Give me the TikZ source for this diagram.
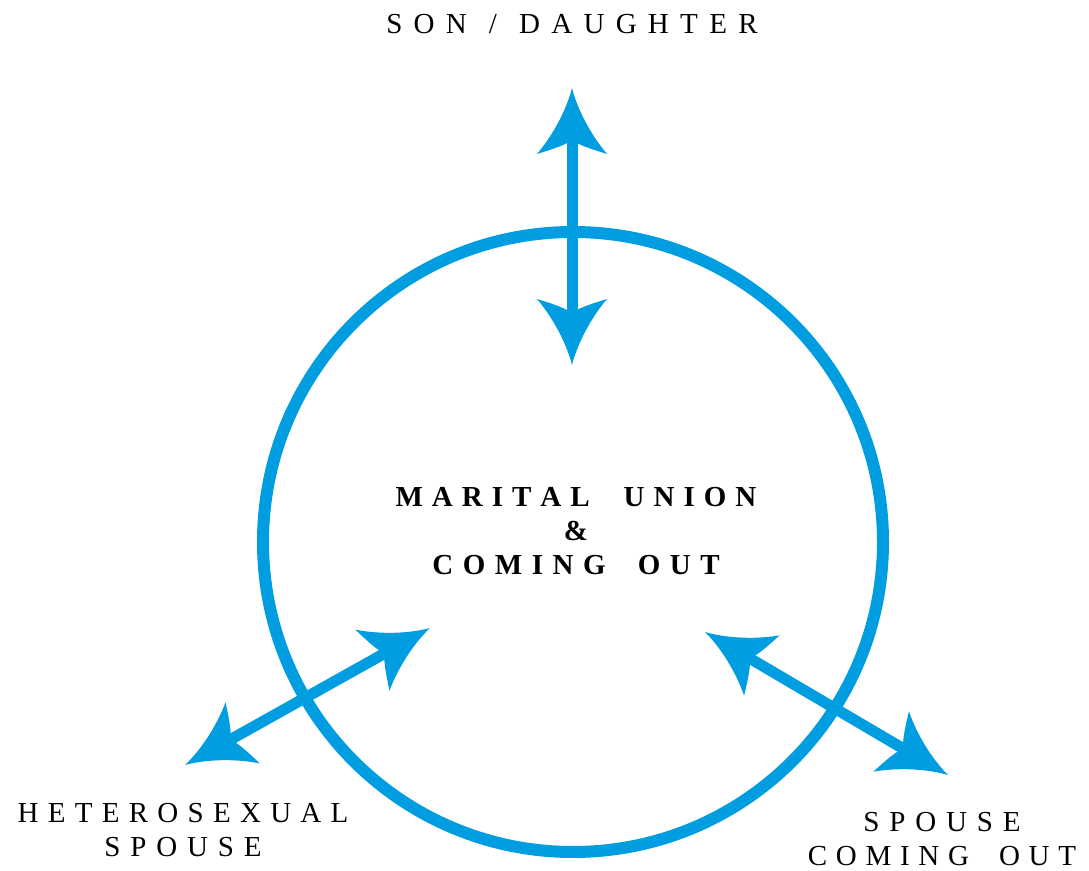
\documentclass[tikz,border=0pt]{standalone}
\usepackage{fontspec}
\setmainfont{Liberation Serif}
\definecolor{bl}{RGB}{0,158,224}
\makeatletter
\newcommand\lsw[2][0.42em]{\@tfor\lsx:=#2\do{\lsx\kern#1}\unkern}
\makeatother
\tikzset{
  head/.pic={\fill[bl] (0,0) .. controls (-20,5) and (-46,18) .. (-66,35)
     .. controls (-62,22) and (-58,10) .. (-55,5) -- (-55,-5)
     .. controls (-58,-10) and (-62,-22) .. (-66,-35)
     .. controls (-46,-18) and (-20,-5) .. (0,0) -- cycle;},
  shaft/.style={draw=bl, line width=11pt, shorten >=45pt, shorten <=45pt},
  lab/.style={font=\fontsize{29}{34}\selectfont, align=center, inner sep=0pt},
  blab/.style={font=\bfseries\fontsize{29}{34}\selectfont, align=center, inner sep=0pt}
}
\begin{document}
\begin{tikzpicture}[x=1pt,y=1pt]
\useasboundingbox (0,0) rectangle (1089,870);
\node[circle, draw=bl, line width=12pt, minimum size=620pt, inner sep=0pt] (union) at (573,328) {};
\node[blab] (title) at (576,339) {\lsw[0.31em]{MARITAL}\hspace{34pt}\lsw[0.31em]{UNION}\\\&\\\lsw[0.33em]{COMING}\hspace{32pt}\lsw[0.33em]{OUT}};
\coordinate (sonT) at (572,782);
\coordinate (sonB) at (572,505);
\coordinate (hetA) at (185,105);
\coordinate (hetB) at (430,242);
\coordinate (spA) at (705,238);
\coordinate (spB) at (948,95);
\draw[shaft] (sonB) -- (sonT);
\draw[shaft] (hetA) -- (hetB);
\draw[shaft] (spA) -- (spB);
\path (sonT) pic[rotate=90]{head};
\path (sonB) pic[rotate=-90]{head};
\path (hetB) pic[rotate=29.2]{head};
\path (hetA) pic[rotate=209.2]{head};
\path (spB) pic[rotate=-30.5]{head};
\path (spA) pic[rotate=149.5]{head};
\node[lab] (son) at (572,846) {\lsw[0.39em]{SON}\hspace{22pt}/\hspace{22pt}\lsw[0.39em]{DAUGHTER}};
\node[lab] (het) at (183,40) {\lsw[0.32em]{HETEROSEXUAL}\\\lsw[0.34em]{SPOUSE}};
\node[lab] (sco) at (942,31) {\lsw[0.34em]{SPOUSE}\\\lsw[0.30em]{COMING}\hspace{30pt}\lsw[0.30em]{OUT}};
\end{tikzpicture}
\end{document}
